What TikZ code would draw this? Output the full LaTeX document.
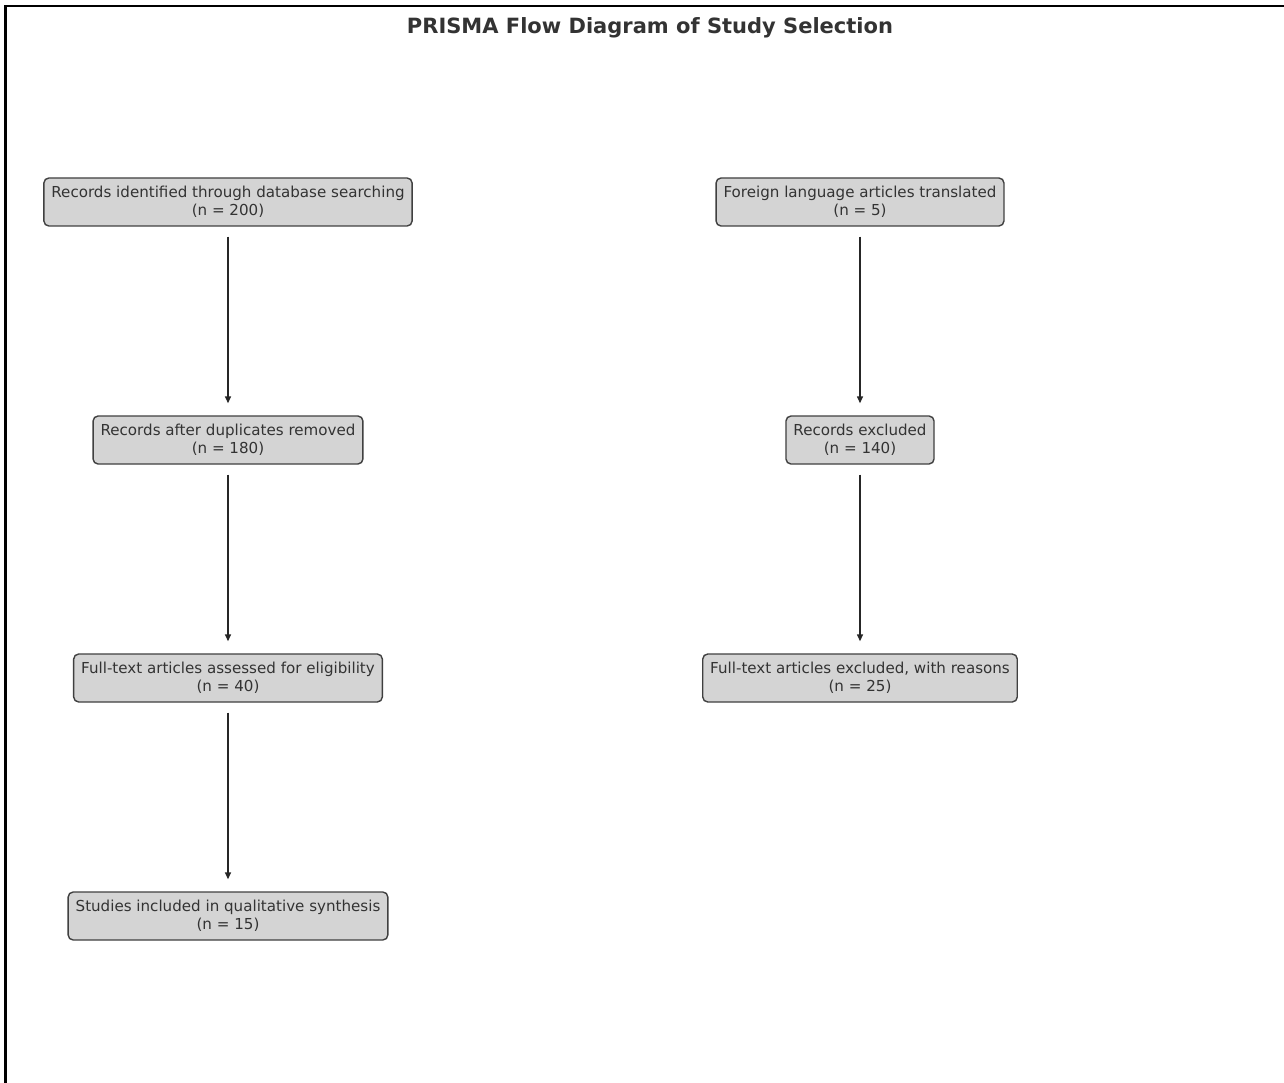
\documentclass[tikz,border=0pt]{standalone}
\usepackage{fontspec}
\setmainfont{DejaVu Sans}
\usetikzlibrary{arrows.meta}
\begin{document}
\begin{tikzpicture}[x=1pt,y=-1pt,
  box/.style={draw=black!75, fill=black!17, rounded corners=5pt, line width=1.4pt,
    align=center, font=\fontsize{15.1}{18}\selectfont, text=black!80,
    inner xsep=7.5pt, minimum height=48pt, inner ysep=0pt},
  flow/.style={-{Triangle[length=7pt,width=6pt]}, line width=1.4pt, draw=black!85, shorten >=0pt},
  frame/.style={line width=2.2pt, draw=black}]
\useasboundingbox (0,0) rectangle (1284,1083);
\fill[white] (0,0) rectangle (1284,1083);
\coordinate (tl) at (5.5,6);
\coordinate (tr) at (1284,6);
\coordinate (bl) at (5.5,1083);
\draw[frame] (tr) -- (tl) -- (bl);
\node[font=\bfseries\fontsize{21}{25}\selectfont, text=black!80] (title) at (650,28) {PRISMA Flow Diagram of Study Selection};
\node[box] (a) at (228,202) {Records identified through database searching\\(n = 200)};
\node[box] (b) at (228,440) {Records after duplicates removed\\(n = 180)};
\node[box] (c) at (228,678) {Full-text articles assessed for eligibility\\(n = 40)};
\node[box] (d) at (228,916) {Studies included in qualitative synthesis\\(n = 15)};
\node[box] (e) at (860,202) {Foreign language articles translated\\(n = 5)};
\node[box] (f) at (860,440) {Records excluded\\(n = 140)};
\node[box] (g) at (860,678) {Full-text articles excluded, with reasons\\(n = 25)};
\foreach \s/\t in {a/b,b/c,c/d,e/f,f/g}{
  \draw[flow] ([yshift=-10pt]\s.south) -- ([yshift=12pt]\t.north);
}
\end{tikzpicture}
\end{document}
